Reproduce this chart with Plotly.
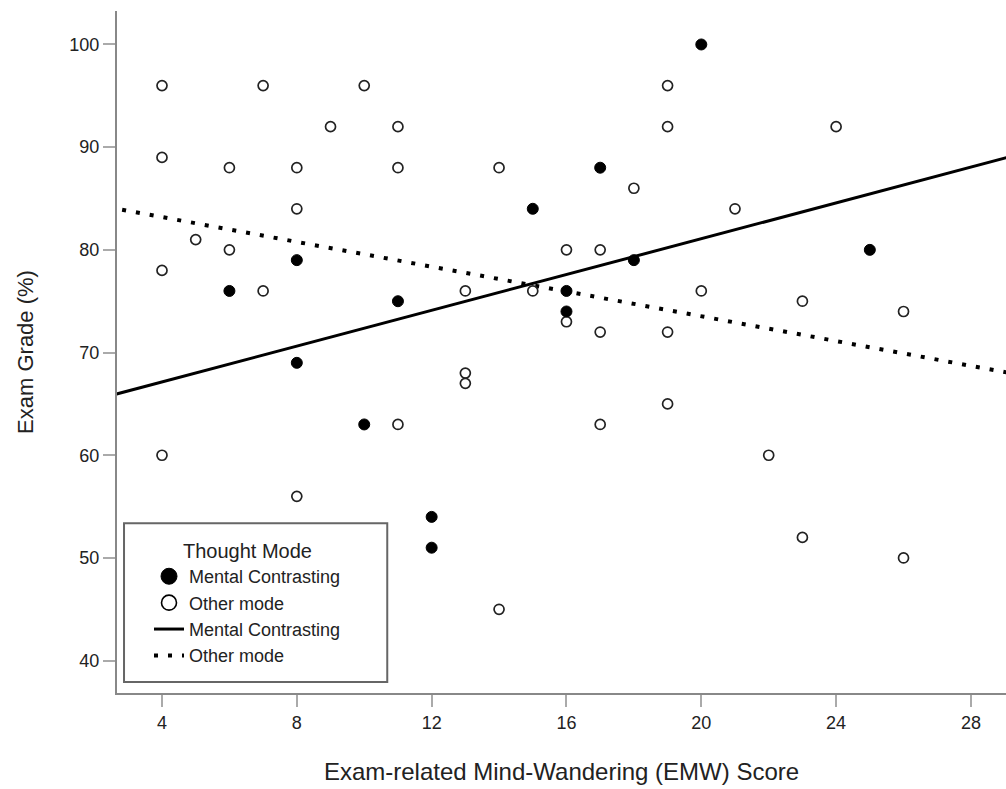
import plotly.graph_objects as go

# ---- data ----
mc_x = [6, 8, 8, 10, 11, 12, 12, 15, 16, 16, 17, 18, 20, 25]
mc_y = [76, 79, 69, 63, 75, 54, 51, 84, 76, 74, 88, 79, 100, 80]

other_x = [4, 4, 4, 4, 5, 6, 6, 7, 7, 8, 8, 8, 9, 10, 11, 11, 11, 13, 13, 13, 14, 14,
           15, 16, 16, 17, 17, 17, 18, 19, 19, 19, 19, 20, 21, 22, 23, 23, 24, 26, 26]
other_y = [96, 89, 78, 60, 81, 88, 80, 96, 76, 88, 84, 56, 92, 96, 92, 88, 63, 76, 68, 67, 88, 45,
           76, 80, 73, 80, 72, 63, 86, 96, 92, 72, 65, 76, 84, 60, 75, 52, 92, 74, 50]

# fitted lines (values read at the ends of the plotted x span)
fit_x = [2, 30]
fit_mc_y = [65.4, 89.8]
fit_other_y = [84.4, 67.5]

x_ticks = [4, 8, 12, 16, 20, 24, 28]
y_ticks = [40, 50, 60, 70, 80, 90, 100]

FONT = "Liberation Sans, Arial, sans-serif"
TXT = "#222222"

fig = go.Figure()

# legend proxies
fig.add_trace(go.Scatter(x=[None], y=[None], mode="markers", name="Mental Contrasting",
                         marker=dict(symbol="circle", size=16, color="black",
                                     line=dict(color="black", width=1))))
fig.add_trace(go.Scatter(x=[None], y=[None], mode="markers", name="Other mode",
                         marker=dict(symbol="circle", size=15, color="white",
                                     line=dict(color="black", width=1.6))))

# fit lines
fig.add_trace(go.Scatter(x=fit_x, y=fit_mc_y, mode="lines", name="Mental Contrasting",
                         line=dict(color="black", width=3)))
fig.add_trace(go.Scatter(x=fit_x, y=fit_other_y, mode="lines", name="Other mode",
                         line=dict(color="black", width=4, dash="4px,10px")))

# points
fig.add_trace(go.Scatter(x=other_x, y=other_y, mode="markers", showlegend=False,
                         marker=dict(symbol="circle", size=10, color="white",
                                     line=dict(color="#222222", width=1.7))))
fig.add_trace(go.Scatter(x=mc_x, y=mc_y, mode="markers", showlegend=False,
                         marker=dict(symbol="circle", size=11, color="black",
                                     line=dict(color="black", width=1))))

fig.update_layout(
    width=1006, height=789,
    margin=dict(l=117, r=0, t=11, b=96),
    paper_bgcolor="white", plot_bgcolor="white",
    font=dict(family=FONT, color=TXT),
    showlegend=True,
    legend=dict(
        x=0.036, y=0.236, xanchor="left", yanchor="top",
        bgcolor="rgba(0,0,0,0)", borderwidth=0,
        font=dict(family=FONT, size=18, color=TXT),
        title=dict(text="Thought Mode", side="top center",
                   font=dict(family=FONT, size=20, color=TXT)),
        itemwidth=30, tracegroupgap=0,
    ),
    shapes=[dict(type="rect", xref="paper", yref="paper",
                 x0=0.0079, x1=0.304, y0=0.016, y1=0.249,
                 line=dict(color="#666666", width=2), fillcolor="white", layer="below")],
)

fig.update_xaxes(
    range=[2.665, 29.04], tickvals=x_ticks, ticktext=[str(v) for v in x_ticks],
    showgrid=False, zeroline=False, showline=True, linecolor="#888888", linewidth=2,
    ticks="outside", ticklen=12, tickwidth=1.5, tickcolor="#aaaaaa",
    tickfont=dict(family=FONT, size=18, color=TXT),
    title=dict(text="Exam-related Mind-Wandering (EMW) Score",
               font=dict(family=FONT, size=24, color=TXT), standoff=32),
)
fig.update_yaxes(
    range=[36.85, 103.26], tickvals=y_ticks, ticktext=[str(v) for v in y_ticks],
    showgrid=False, zeroline=False, showline=True, linecolor="#888888", linewidth=2,
    ticks="outside", ticklen=12, tickwidth=1.5, tickcolor="#aaaaaa",
    tickfont=dict(family=FONT, size=18, color=TXT),
    title=dict(text="Exam Grade (%)", font=dict(family=FONT, size=22, color=TXT), standoff=30),
)

fig.write_html("out.html")
